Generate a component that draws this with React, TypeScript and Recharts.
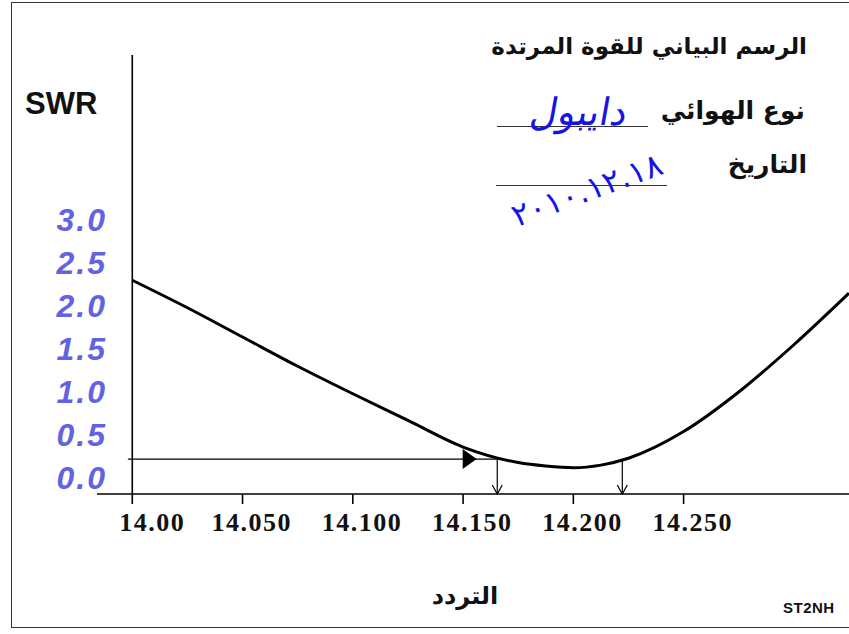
import React from "react";
import {
  ComposedChart,
  Line,
  XAxis,
  YAxis,
  ReferenceLine,
  ReferenceDot,
} from "recharts";

// Frequency (MHz) and SWR
const freqs = [14.0, 14.025, 14.05, 14.075, 14.1, 14.125, 14.15, 14.175, 14.1875, 14.2, 14.2125, 14.225, 14.25, 14.275, 14.3, 14.325];
const swrValues = [2.30, 1.98, 1.64, 1.30, 0.98, 0.67, 0.36, 0.18, 0.14, 0.12, 0.15, 0.23, 0.54, 1.0, 1.55, 2.15];

const xTicks = [14.0, 14.05, 14.1, 14.15, 14.2, 14.25];
const xTickLabels = ["14.00", "14.050", "14.100", "14.150", "14.200", "14.250"];
const yTicks = [0, 0.5, 1.0, 1.5, 2.0, 2.5, 3.0];
const yTickLabels = ["0.0", "0.5", "1.0", "1.5", "2.0", "2.5", "3.0"];

const xDomain = [13.984, 14.325];
const yDomain = [-0.186, 4.92];

// Marker construction: threshold SWR level and the two band-edge frequencies
const thresholdSwr = 0.22;
const bandEdges = [14.1655, 14.2222];
const arrowTipFreq = 14.153;

const titleText = "الرسم البياني للقوة المرتدة";
const antennaLabel = "نوع الهوائي";
const antennaValue = "دايبول";
const dateLabel = "التاريخ";
const dateValue = "٢٠١٠.١٢.١٨";
const xAxisTitle = "التردد";
const yAxisTitle = "SWR";
const signature = "ST2NH";

const curveData = freqs.map((f, i) => ({ f, swr: swrValues[i] }));

const serif = "'Liberation Serif', 'Times New Roman', 'DejaVu Serif', serif";

const XTick = (props: any) => {
  const { x, y, index } = props;
  const shift = index === 0 ? 13 : 31;
  return (
    <text
      x={x - shift}
      y={y}
      dy={25}
      textAnchor="start"
      style={{ fontFamily: serif, fontWeight: 700, fontSize: 26, letterSpacing: 1.5 }}
      fill="#111"
    >
      {xTickLabels[index]}
    </text>
  );
};

const YTick = (props: any) => {
  const { x, y, index } = props;
  return (
    <text
      x={x + 10}
      y={y}
      dy={11}
      textAnchor="end"
      style={{
        fontFamily: "'Liberation Sans', Arial, sans-serif",
        fontWeight: 700,
        fontStyle: "italic",
        fontSize: 32,
        letterSpacing: 2,
      }}
      fill="#6262e2"
    >
      {yTickLabels[index]}
    </text>
  );
};

const Triangle = (props: any) => {
  const { cx, cy } = props;
  return (
    <polygon
      points={`${cx - 7},${cy - 10} ${cx + 7},${cy} ${cx - 7},${cy + 10}`}
      fill="#000"
    />
  );
};

const DownV = (props: any) => {
  const { cx, cy } = props;
  return (
    <path
      d={`M${cx - 5},${cy - 9} L${cx},${cy} L${cx + 5},${cy - 9}`}
      stroke="#000"
      strokeWidth={1.2}
      fill="none"
    />
  );
};

const arabic = "'DejaVu Sans', 'Noto Sans', sans-serif";

export default function App() {
  return (
    <div
      style={{
        position: "absolute",
        left: 0,
        top: 0,
        width: 849,
        height: 634,
        background: "#fff",
        overflow: "hidden",
      }}
    >
      <ComposedChart
        width={849}
        height={634}
        data={curveData}
        margin={{ top: 55, right: 0, bottom: 100, left: 37 }}
      >
        <XAxis
          dataKey="f"
          type="number"
          domain={xDomain}
          allowDataOverflow
          ticks={xTicks}
          tick={<XTick />}
          tickSize={10}
          tickMargin={2}
          height={40}
          axisLine={{ stroke: "#000", strokeWidth: 1.6 }}
          tickLine={{ stroke: "#000", strokeWidth: 1.6 }}
        />
        <YAxis
          type="number"
          domain={yDomain}
          allowDataOverflow
          ticks={yTicks}
          tick={<YTick />}
          tickSize={0}
          tickMargin={0}
          tickLine={false}
          axisLine={false}
          width={60}
        />
        <ReferenceLine x={xTicks[0]} stroke="#000" strokeWidth={1.6} />
        <ReferenceLine
          segment={[
            { x: xTicks[0] - 0.002, y: thresholdSwr },
            { x: bandEdges[0], y: thresholdSwr },
          ]}
          stroke="#000"
          strokeWidth={1.2}
        />
        {bandEdges.map((b) => (
          <ReferenceLine
            key={b}
            segment={[
              { x: b, y: thresholdSwr },
              { x: b, y: yDomain[0] },
            ]}
            stroke="#000"
            strokeWidth={1.2}
          />
        ))}
        {bandEdges.map((b) => (
          <ReferenceDot key={"v" + b} x={b} y={yDomain[0]} shape={<DownV />} />
        ))}
        <ReferenceDot x={arrowTipFreq} y={thresholdSwr} shape={<Triangle />} />
        <Line
          dataKey="swr"
          type="monotone"
          stroke="#000"
          strokeWidth={3}
          dot={false}
          isAnimationActive={false}
        />
      </ComposedChart>

      {/* frame */}
      <div
        style={{
          position: "absolute",
          left: 11,
          top: 2,
          width: 860,
          height: 626,
          border: "1.5px solid #333",
          boxSizing: "border-box",
          pointerEvents: "none",
        }}
      />

      <div
        style={{
          position: "absolute",
          left: 25,
          top: 86,
          fontFamily: "'Liberation Sans', Arial, sans-serif",
          fontWeight: "bold",
          fontSize: 31,
          color: "#111",
          lineHeight: "36px",
        }}
      >
        {yAxisTitle}
      </div>

      <div
        dir="rtl"
        style={{
          position: "absolute",
          right: 42,
          top: 31,
          fontFamily: arabic,
          fontWeight: "bold",
          fontSize: 23,
          color: "#111",
          lineHeight: "30px",
          whiteSpace: "nowrap",
        }}
      >
        {titleText}
      </div>
      <div
        dir="rtl"
        style={{
          position: "absolute",
          right: 44,
          top: 96,
          fontFamily: arabic,
          fontWeight: "bold",
          fontSize: 25,
          color: "#111",
          lineHeight: "30px",
          whiteSpace: "nowrap",
        }}
      >
        {antennaLabel}
      </div>
      <div
        dir="rtl"
        style={{
          position: "absolute",
          right: 42,
          top: 150,
          fontFamily: arabic,
          fontWeight: "bold",
          fontSize: 25,
          color: "#111",
          lineHeight: "30px",
          whiteSpace: "nowrap",
        }}
      >
        {dateLabel}
      </div>

      <div style={{ position: "absolute", left: 497, top: 126, width: 151, borderTop: "1.5px solid #333" }} />
      <div style={{ position: "absolute", left: 496, top: 185, width: 171, borderTop: "1.5px solid #333" }} />

      <div
        dir="rtl"
        style={{
          position: "absolute",
          left: 506,
          top: 90,
          width: 146,
          textAlign: "center",
          fontFamily: arabic,
          fontSize: 38,
          color: "#1414e6",
          lineHeight: "44px",
          transform: "skewX(-10deg)",
          whiteSpace: "nowrap",
        }}
      >
        {antennaValue}
      </div>
      <div
        style={{
          position: "absolute",
          left: 492,
          top: 172,
          width: 190,
          textAlign: "center",
          fontFamily: arabic,
          fontSize: 32,
          color: "#1414e6",
          lineHeight: "36px",
          transform: "rotate(-20deg)",
          whiteSpace: "nowrap",
        }}
      >
        {dateValue}
      </div>

      <div
        dir="rtl"
        style={{
          position: "absolute",
          left: 420,
          top: 580,
          width: 90,
          textAlign: "center",
          fontFamily: arabic,
          fontWeight: "bold",
          fontSize: 24,
          color: "#111",
          lineHeight: "32px",
        }}
      >
        {xAxisTitle}
      </div>

      <div
        style={{
          position: "absolute",
          left: 783,
          top: 600,
          fontFamily: "'Liberation Sans', Arial, sans-serif",
          fontWeight: "bold",
          fontSize: 15,
          letterSpacing: 0.5,
          color: "#111",
          lineHeight: "16px",
        }}
      >
        {signature}
      </div>
    </div>
  );
}
